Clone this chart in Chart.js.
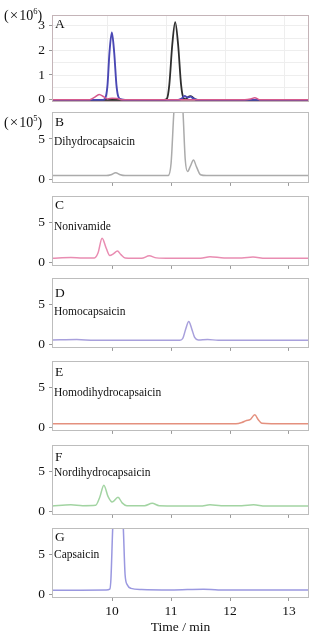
<!DOCTYPE html>
<html><head><meta charset="utf-8">
<script src="https://cdn.jsdelivr.net/npm/chart.js@4"></script>
<style>
body{margin:0;background:#fff;}
#wrap{position:relative;width:323px;height:640px;overflow:hidden;font-family:"Liberation Serif","Times New Roman",serif;color:#222;}
#wrap canvas{position:absolute;left:0;}
.lab{position:absolute;left:55px;font-size:13.5px;line-height:1;white-space:nowrap;color:#111;}
.name{position:absolute;left:54px;font-size:11.5px;line-height:1;white-space:nowrap;color:#111;}
.exp{position:absolute;left:4px;font-size:14px;line-height:1;white-space:nowrap;color:#111;}
.exp .x{display:inline-block;margin:0 1px;font-size:15px;}
.exp sup{font-size:8.5px;vertical-align:6px;}
</style></head><body><div id="wrap"></div>
<script>
// ---------- data ----------
const xMin = 8.98, xMax = 13.34;
const xTicks = [10, 11, 12, 13];
const xTickLabels = ['10', '11', '12', '13'];
const yTicksA = [0, 1, 2, 3];
const yTicksLow = [0, 5];
const gridAX = [9.92, 10.92, 11.92, 12.92];
const gridAY = [0.5, 1, 1.5, 2, 2.5, 3];

const panelLetters = ['A', 'B', 'C', 'D', 'E', 'F', 'G'];
const compoundNames = ['', 'Dihydrocapsaicin', 'Nonivamide', 'Homocapsaicin', 'Homodihydrocapsaicin', 'Nordihydrocapsaicin', 'Capsaicin'];

// Panel A
const aBlackT = [8.98, 10.88, 10.93, 10.97, 11.02, 11.07, 11.12, 11.17, 11.21, 11.25, 11.29, 11.33, 11.37, 11.42, 11.5, 13.34];
const aBlackV = [0, 0, 0.05, 0.6, 2.2, 3.12, 2.2, 0.6, 0.08, 0.03, 0.12, 0.15, 0.1, 0.01, 0, 0];
const aBlueT = [8.98, 9.84, 9.88, 9.92, 9.955, 9.995, 10.035, 10.075, 10.11, 10.16, 10.22, 11.12, 11.18, 11.23, 11.28, 11.33, 11.38, 11.45, 13.34];
const aBlueV = [0, 0, 0.05, 0.55, 1.9, 2.7, 1.9, 0.55, 0.1, 0.02, 0, 0, 0.05, 0.16, 0.1, 0.13, 0.05, 0, 0];
const aPinkT = [8.98, 9.62, 9.7, 9.78, 9.86, 9.92, 10.0, 10.08, 10.16, 12.25, 12.35, 12.42, 12.5, 13.34];
const aPinkV = [0.01, 0.01, 0.1, 0.22, 0.12, 0.04, 0.07, 0.06, 0.01, 0.01, 0.04, 0.09, 0.01, 0.01];
// Panel B Dihydrocapsaicin
const bT = [8.98, 9.9, 9.98, 10.06, 10.14, 10.22, 10.95, 11.0, 11.05, 11.12, 11.2, 11.24, 11.28, 11.33, 11.38, 11.43, 11.5, 11.6, 13.34];
const bV = [0.5, 0.5, 0.6, 0.85, 0.6, 0.5, 0.5, 2.0, 8.6, 14, 8.6, 2.5, 1.0, 1.7, 2.4, 1.6, 0.6, 0.5, 0.5];
// Panel C Nonivamide
const cT = [8.98, 9.3, 9.5, 9.7, 9.76, 9.83, 9.9, 9.96, 10.02, 10.09, 10.15, 10.22, 10.5, 10.63, 10.75, 11.0, 11.5, 11.66, 11.9, 12.2, 12.39, 12.6, 13.34];
const cV = [0.55, 0.65, 0.6, 0.6, 1.2, 3.05, 1.8, 0.9, 1.1, 1.45, 1.0, 0.6, 0.55, 0.85, 0.6, 0.55, 0.55, 0.75, 0.6, 0.6, 0.7, 0.55, 0.55];
// Panel D Homocapsaicin
const dT = [8.98, 9.4, 9.7, 11.15, 11.2, 11.25, 11.3, 11.35, 11.4, 11.46, 11.62, 11.8, 13.34];
const dV = [0.6, 0.65, 0.55, 0.55, 0.8, 2.0, 2.9, 2.0, 0.9, 0.6, 0.65, 0.55, 0.55];
// Panel E Homodihydrocapsaicin
const eT = [8.98, 12.1, 12.2, 12.28, 12.34, 12.42, 12.48, 12.54, 12.7, 13.34];
const eV = [0.5, 0.5, 0.65, 0.9, 1.0, 1.6, 1.0, 0.55, 0.5, 0.5];
// Panel F Nordihydrocapsaicin
const fT = [8.98, 9.3, 9.5, 9.72, 9.79, 9.86, 9.93, 10.0, 10.1, 10.17, 10.25, 10.55, 10.68, 10.8, 11.5, 11.66, 11.85, 12.2, 12.4, 12.6, 13.34];
const fV = [0.7, 0.85, 0.75, 0.8, 1.8, 3.3, 1.9, 1.2, 1.8, 1.1, 0.75, 0.75, 1.05, 0.75, 0.7, 0.85, 0.75, 0.75, 0.85, 0.7, 0.7];
// Panel G Capsaicin
const gT = [8.98, 9.9, 9.96, 9.98, 10.01, 10.1, 10.19, 10.22, 10.26, 10.32, 10.5, 11.0, 11.55, 11.8, 13.34];
const gV = [0.55, 0.6, 0.7, 2.0, 8.3, 20, 8.3, 2.5, 1.2, 0.8, 0.65, 0.6, 0.7, 0.6, 0.6];

// ---------- layout ----------
const panelTops = [15, 112, 196, 278, 361, 445, 528];
const panelHeights = [87, 71, 70, 70, 70, 70, 70];
const letterTops = [17, 115, 198, 286, 365, 450, 530];
const nameTops = [0, 136, 221, 306, 387, 467, 549];
const padTop = 12;

function pts(t, v) { return t.map((x, i) => ({ x: x, y: v[i] })); }
function ds(t, v, color, w) {
  return { data: pts(t, v), borderColor: color, borderWidth: w, pointRadius: 0, fill: false,
           cubicInterpolationMode: 'monotone', tension: 0.4 };
}

const panels = [
  { sets: [ds(aPinkT, aPinkV, '#d65a8e', 1.5), ds(aBlueT, aBlueV, '#4a48b4', 1.9), ds(aBlackT, aBlackV, '#2e2e2e', 1.8)], yMin: -0.08, yMax: 3.4, yTicks: yTicksA },
  { sets: [ds(bT, bV, '#ababab', 1.5)], yMin: -0.4, yMax: 8.3, yTicks: yTicksLow },
  { sets: [ds(cT, cV, '#e98db2', 1.5)], yMin: -0.4, yMax: 8.3, yTicks: yTicksLow },
  { sets: [ds(dT, dV, '#a8a0dc', 1.5)], yMin: -0.4, yMax: 8.3, yTicks: yTicksLow },
  { sets: [ds(eT, eV, '#e4907e', 1.5)], yMin: -0.4, yMax: 8.3, yTicks: yTicksLow },
  { sets: [ds(fT, fV, '#a2d4a2', 1.5)], yMin: -0.4, yMax: 8.3, yTicks: yTicksLow },
  { sets: [ds(gT, gV, '#9a98e0', 1.5)], yMin: -0.4, yMax: 8.3, yTicks: yTicksLow }
];

const wrap = document.getElementById('wrap');
const tickFont = { family: 'Liberation Serif', size: 13.5 };

const boxPlugin = {
  id: 'box',
  beforeDatasetsDraw(chart, args, opts) {
    const ctx = chart.ctx, a = chart.chartArea;
    if (opts.gridA) {
      ctx.save();
      ctx.strokeStyle = '#eeeeee';
      ctx.lineWidth = 1;
      const xs = chart.scales.x, ys = chart.scales.y;
      gridAX.forEach(v => { const px = Math.round(xs.getPixelForValue(v)) + 0.5; ctx.beginPath(); ctx.moveTo(px, a.top); ctx.lineTo(px, a.bottom); ctx.stroke(); });
      gridAY.forEach(v => { const py = Math.round(ys.getPixelForValue(v)) + 0.5; ctx.beginPath(); ctx.moveTo(a.left, py); ctx.lineTo(a.right, py); ctx.stroke(); });
      ctx.strokeStyle = '#9a9a9a';
      const p0 = Math.round(ys.getPixelForValue(0)) + 0.5;
      ctx.beginPath(); ctx.moveTo(a.left, p0); ctx.lineTo(a.right, p0); ctx.stroke();
      ctx.restore();
    }
  },
  afterDraw(chart, args, opts) {
    const ctx = chart.ctx, a = chart.chartArea;
    ctx.save();
    ctx.strokeStyle = opts.color || '#bdbdbd';
    ctx.lineWidth = 1;
    ctx.strokeRect(Math.round(a.left) + 0.5, Math.round(a.top) + 0.5, Math.round(a.right - a.left) - 1, Math.round(a.bottom - a.top) - 1);
    ctx.restore();
  }
};

panels.forEach((p, i) => {
  const isLast = i === panels.length - 1;
  const bottomH = isLast ? 42 : 12;
  const h = panelHeights[i] + padTop + bottomH;
  const cv = document.createElement('canvas');
  cv.width = 323; cv.height = h;
  cv.style.top = (panelTops[i] - padTop) + 'px';
  cv.style.width = '323px'; cv.style.height = h + 'px';
  wrap.appendChild(cv);

  new Chart(cv, {
    type: 'line',
    data: { datasets: p.sets },
    plugins: [boxPlugin],
    options: {
      responsive: false, animation: false, devicePixelRatio: 1,
      layout: { padding: { top: padTop, right: 14, left: 0, bottom: 0 } },
      plugins: { legend: { display: false }, tooltip: { enabled: false },
                 box: { gridA: i === 0, color: i === 0 ? '#c4b4b8' : '#bdbdbd' } },
      scales: {
        x: {
          type: 'linear', min: xMin, max: xMax,
          afterBuildTicks: s => { s.ticks = xTicks.map(v => ({ value: v })); },
          afterFit: s => { s.height = bottomH; },
          border: { display: false },
          grid: { display: i !== 0, drawOnChartArea: false, drawTicks: true, tickLength: 3, color: '#9a9a9a' },
          ticks: { display: isLast, padding: 2, color: '#111', font: tickFont, maxRotation: 0,
                   callback: (v, idx) => xTickLabels[idx] },
          title: { display: isLast, text: 'Time / min', color: '#111', font: tickFont, padding: { top: 2, bottom: 4 } }
        },
        y: {
          min: p.yMin, max: p.yMax,
          afterBuildTicks: s => { s.ticks = p.yTicks.map(v => ({ value: v })); },
          afterFit: s => { s.width = 52; },
          border: { display: false },
          grid: { drawOnChartArea: false, drawTicks: true, tickLength: 3, color: '#9a9a9a' },
          ticks: { padding: 4, color: '#111', font: tickFont, callback: v => String(v) }
        }
      }
    }
  });

  const L = document.createElement('div');
  L.className = 'lab'; L.style.top = letterTops[i] + 'px'; L.textContent = panelLetters[i];
  wrap.appendChild(L);
  if (compoundNames[i]) {
    const N = document.createElement('div');
    N.className = 'name'; N.style.top = nameTops[i] + 'px'; N.textContent = compoundNames[i];
    wrap.appendChild(N);
  }
});

const e6 = document.createElement('div');
e6.className = 'exp'; e6.style.top = '7px'; e6.innerHTML = '(<span class="x">×</span>10<sup>6</sup>)';
wrap.appendChild(e6);
const e5 = document.createElement('div');
e5.className = 'exp'; e5.style.top = '114px'; e5.innerHTML = '(<span class="x">×</span>10<sup>5</sup>)';
wrap.appendChild(e5);
</script></body></html>
